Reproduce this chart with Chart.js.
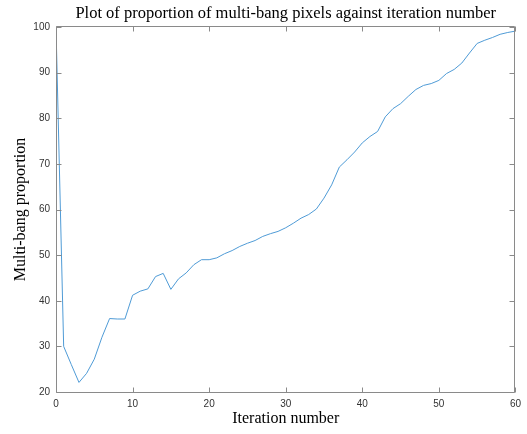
<!DOCTYPE html>
<html>
<head>
<meta charset="utf-8">
<script src="https://cdn.jsdelivr.net/npm/chart.js@4/dist/chart.umd.min.js"></script>
<style>
  html, body { margin: 0; padding: 0; background: #fff; }
  canvas { display: block; }
</style>
</head>
<body>
<canvas id="chart" width="527" height="434"></canvas>
<script>
// Iteration number against proportion of multi-bang pixels (%)
const iterations = [
  0, 1, 2, 3, 4, 5, 6, 7, 8, 9,
  10, 11, 12, 13, 14, 15, 16, 17, 18, 19,
  20, 21, 22, 23, 24, 25, 26, 27, 28, 29,
  30, 31, 32, 33, 34, 35, 36, 37, 38, 39,
  40, 41, 42, 43, 44, 45, 46, 47, 48, 49,
  50, 51, 52, 53, 54, 55, 56, 57, 58, 59, 60,
];
const proportion = [
  100, 30, 26, 22.1, 24.1, 27.2, 32, 36.1, 36, 36,
  41.2, 42.1, 42.6, 45.3, 46, 42.5, 44.8, 46.1, 47.9, 49,
  49, 49.4, 50.3, 51, 51.9, 52.6, 53.2, 54.1, 54.7, 55.2,
  56, 57, 58.1, 58.9, 60.1, 62.5, 65.4, 69.3, 70.9, 72.6,
  74.6, 76, 77.1, 80.3, 82.1, 83.2, 84.8, 86.3, 87.2, 87.6,
  88.3, 89.8, 90.7, 92.1, 94.3, 96.4, 97.1, 97.7, 98.4, 98.8, 99.1,
];
const xTicks = [0, 10, 20, 30, 40, 50, 60];
const yTicks = [20, 30, 40, 50, 60, 70, 80, 90, 100];

const titleText = "Plot of proportion of multi-bang pixels against iteration number";
const xLabel = "Iteration number";
const yLabel = "Multi-bang proportion";

const serif = "'Liberation Serif', 'Times New Roman', serif";
const sans = "'Liberation Sans', Arial, sans-serif";
const axisColor = "#8a8a8a";

// matlab style box with ticks pointing inwards on all four sides
const boxPlugin = {
  id: "box",
  afterLayout(chart) {
    const t = chart.titleBlock;
    if (t) {
      t.left = chart.chartArea.left;
      t.right = chart.chartArea.right;
      t.width = t.right - t.left;
    }
  },
  afterDatasetsDraw(chart) {
    const { ctx, chartArea: a, scales } = chart;
    const l = Math.round(a.left) + 0.5;
    const r = Math.round(a.right) - 0.5;
    const t = Math.round(a.top) - 0.5;
    const b = Math.round(a.bottom) + 0.5;
    const len = 5;
    ctx.save();
    ctx.strokeStyle = axisColor;
    ctx.lineWidth = 1;
    ctx.beginPath();
    ctx.rect(l, t, r - l, b - t);
    xTicks.forEach((v) => {
      const px = Math.round(scales.x.getPixelForValue(v)) + 0.5;
      ctx.moveTo(px, b);
      ctx.lineTo(px, b - len);
      ctx.moveTo(px, t);
      ctx.lineTo(px, t + len);
    });
    yTicks.forEach((v) => {
      const py = Math.round(scales.y.getPixelForValue(v)) + 0.5;
      ctx.moveTo(l, py);
      ctx.lineTo(l + len, py);
      ctx.moveTo(r, py);
      ctx.lineTo(r - len, py);
    });
    ctx.stroke();
    ctx.restore();
  },
};

new Chart(document.getElementById("chart"), {
  type: "line",
  data: {
    datasets: [
      {
        data: iterations.map((x, i) => ({ x: x, y: proportion[i] })),
        borderColor: "#4f9bd6",
        borderWidth: 1,
        pointRadius: 0,
        tension: 0,
        fill: false,
      },
    ],
  },
  options: {
    responsive: false,
    animation: false,
    devicePixelRatio: 1,
    layout: { padding: { left: 0, right: 7, top: 0, bottom: 0 } },
    plugins: {
      legend: { display: false },
      tooltip: { enabled: false },
      title: {
        display: true,
        text: titleText,
        color: "#000",
        font: { family: serif, size: 16.5, weight: "normal" },
        padding: { top: 3.5, bottom: 3.7 },
      },
    },
    scales: {
      x: {
        type: "linear",
        min: 0,
        max: 60,
        afterBuildTicks: (s) => { s.ticks = xTicks.map((v) => ({ value: v })); },
        afterFit: (s) => { s.height = 42; },
        grid: { display: false, drawTicks: false },
        border: { display: false },
        ticks: { padding: 6, color: "#333", font: { family: sans, size: 10 } },
        title: {
          display: true,
          text: xLabel,
          color: "#000",
          font: { family: serif, size: 16 },
          padding: { top: 0, bottom: 6 },
        },
      },
      y: {
        min: 20,
        max: 100,
        afterBuildTicks: (s) => { s.ticks = yTicks.map((v) => ({ value: v })); },
        afterFit: (s) => { s.width = 56; },
        grid: { display: false, drawTicks: false },
        border: { display: false },
        ticks: { padding: 6, color: "#333", font: { family: sans, size: 10 } },
        title: {
          display: true,
          text: yLabel,
          color: "#000",
          font: { family: serif, size: 16 },
          padding: { top: 11, bottom: 0 },
        },
      },
    },
  },
  plugins: [boxPlugin],
});
</script>
</body>
</html>
